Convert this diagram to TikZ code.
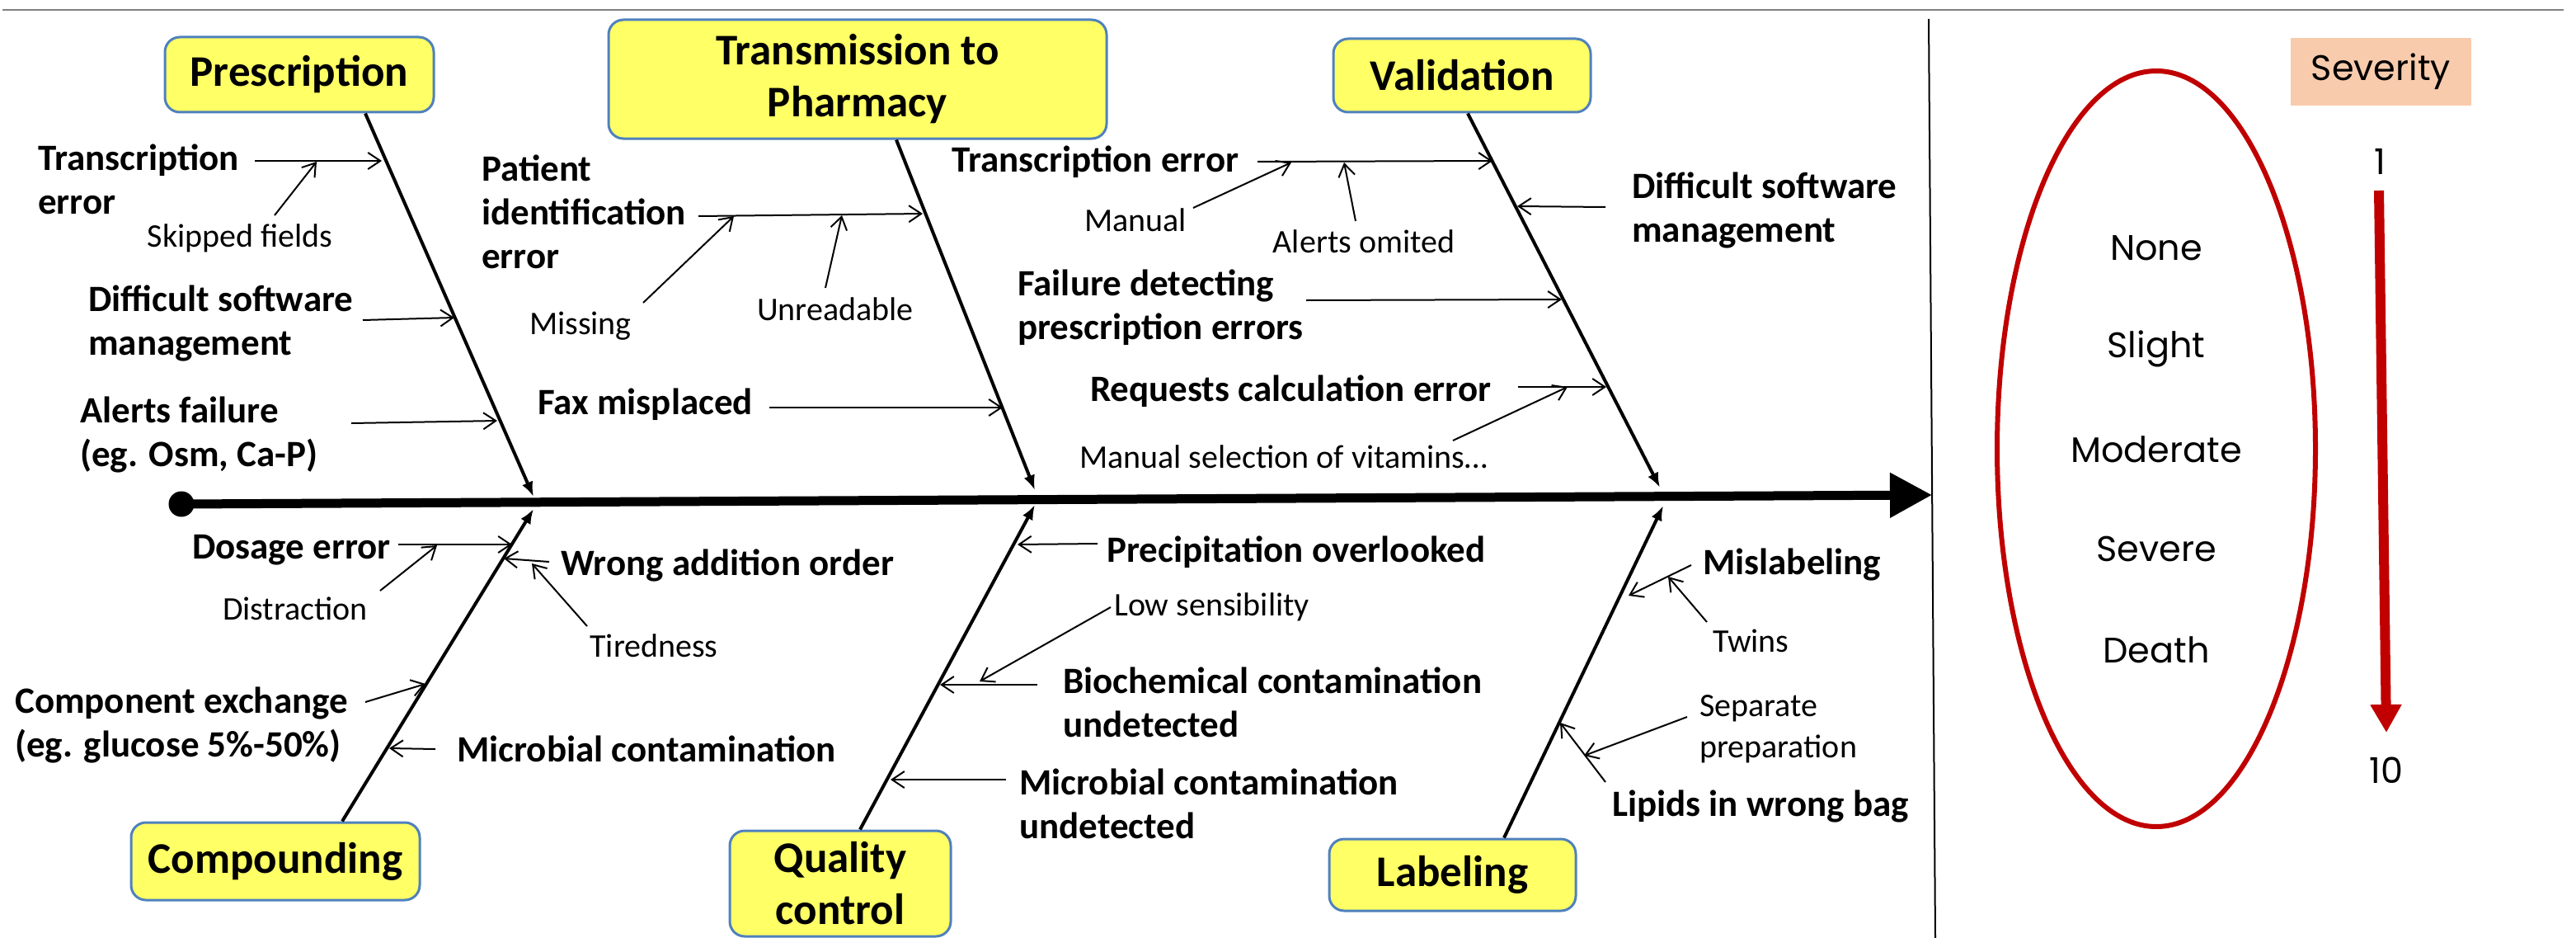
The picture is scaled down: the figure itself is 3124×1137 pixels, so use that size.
\documentclass[tikz,border=0pt]{standalone}
\usepackage{fontspec}
\setmainfont{Carlito}
\newfontfamily\sevfont{Poppins}
\usetikzlibrary{arrows.meta,shapes.geometric}
\definecolor{boxyellow}{HTML}{FFFF66}
\definecolor{boxblue}{HTML}{4F81BD}
\definecolor{sevred}{HTML}{C00000}
\definecolor{peach}{HTML}{F8CBAD}
\begin{document}
\begin{tikzpicture}[x=1pt,y=-1pt,
  box/.style={draw=boxblue, line width=3pt, fill=boxyellow, rounded corners=18pt, font=\fontsize{53}{63}\selectfont\bfseries, align=center, inner sep=0pt},
  cause/.style={font=\fontsize{45}{53}\selectfont\bfseries, align=left, anchor=west, inner sep=0pt},
  sub/.style={font=\fontsize{40}{50}\selectfont, align=left, inner sep=0pt},
  bone/.style={line width=4pt, -{Latex[length=18pt,width=14pt]}},
  sarrow/.style={line width=2pt, -{Straight Barb[length=15pt,width=20pt]}},
  sevtext/.style={font=\sevfont\fontsize{43}{50}\selectfont, inner sep=0pt}
]
\useasboundingbox (0,0) rectangle (3124,1137);
% frame lines
\coordinate (tl) at (3,12);
\coordinate (tr) at (3109,12);
\draw[gray, line width=2.5pt] (tl) -- (tr);
\coordinate (vs) at (2339,23);
\coordinate (ve) at (2347,1137);
\draw[line width=2pt] (vs) -- (ve);

% spine
\node[circle, fill, minimum size=31pt, inner sep=0pt] (dot) at (220,611) {};
\coordinate (head) at (2343,600);
\draw[line width=11pt, -{Triangle[length=51pt,width=52pt]}] (dot.center) -- (head);

% category boxes
\node[box, minimum width=326pt, minimum height=91pt] (presc) at (363,90.5) {Prescription};
\node[box, minimum width=604pt, minimum height=144pt] (trans) at (1040,96) {Transmission to\\Pharmacy};
\node[box, minimum width=312pt, minimum height=89pt] (valid) at (1773,91.5) {Validation};
\node[box, minimum width=350pt, minimum height=94pt] (comp) at (334,1044) {Compounding};
\node[box, minimum width=268pt, minimum height=128pt] (qual) at (1019,1071) {Quality\\control};
\node[box, minimum width=299pt, minimum height=87pt] (label) at (1761.5,1060.5) {Labeling};

% bones
\coordinate (j1) at (647,602);
\coordinate (j2) at (1255,594);
\coordinate (j3) at (2013,591);
\coordinate (j4) at (647,617);
\coordinate (j5) at (1255,612);
\coordinate (j6) at (2017,613);
\draw[bone] ([xshift=80pt]presc.south) -- (j1);
\draw[bone] ([xshift=47pt]trans.south) -- (j2);
\draw[bone] ([xshift=7pt]valid.south) -- (j3);
\draw[bone] ([xshift=81pt]comp.north) -- (j4);
\draw[bone] ([xshift=24pt]qual.north) -- (j5);
\draw[bone] ([xshift=62.5pt]label.north) -- (j6);

% ---- Prescription causes
\node[cause] (c1) at (46,217) {Transcription\\error};
\node[sub, anchor=center] (s1) at (291,289) {Skipped fields};
\coordinate (a1s) at (309,195); \coordinate (a1e) at (463,195);
\draw[sarrow] (a1s) -- (a1e);
\coordinate (a2s) at (333,261); \coordinate (a2e) at (384,196);
\draw[sarrow] (a2s) -- (a2e);
\node[cause] (c2) at (107,392) {Difficult software\\management};
\coordinate (a3s) at (440,388); \coordinate (a3e) at (551,385);
\draw[sarrow] (a3s) -- (a3e);
\node[cause] (c3) at (97,527) {Alerts failure\\(eg. Osm, Ca-P)};
\coordinate (a4s) at (426,513); \coordinate (a4e) at (603,510);
\draw[sarrow] (a4s) -- (a4e);

% ---- Transmission causes
\node[cause] (c4) at (584,257) {Patient\\identification\\error};
\coordinate (a5s) at (847,262); \coordinate (a5e) at (1119,259);
\draw[sarrow] (a5s) -- (a5e);
\node[sub, anchor=center] (s2) at (704,395) {Missing};
\coordinate (a6s) at (780,367); \coordinate (a6e) at (890,262);
\draw[sarrow] (a6s) -- (a6e);
\node[sub, anchor=west] (s3) at (918,375) {Unreadable};
\coordinate (a7s) at (1001,349); \coordinate (a7e) at (1021,261);
\draw[sarrow] (a7s) -- (a7e);
\node[cause] (c5) at (652,490) {Fax misplaced};
\coordinate (a8s) at (933,494); \coordinate (a8e) at (1216,494);
\draw[sarrow] (a8s) -- (a8e);

% ---- Validation causes
\node[cause] (c6) at (1154,196) {Transcription error};
\coordinate (a9s) at (1525,196); \coordinate (a9e) at (1810,195);
\draw[sarrow] (a9s) -- (a9e);
\node[sub, anchor=center] (s4) at (1377,267) {Manual};
\coordinate (a10s) at (1447,252); \coordinate (a10e) at (1566,197);
\draw[sarrow] (a10s) -- (a10e);
\node[sub, anchor=center] (s5) at (1654,293) {Alerts omited};
\coordinate (a11s) at (1644,268); \coordinate (a11e) at (1630,197);
\draw[sarrow] (a11s) -- (a11e);
\node[cause] (c7) at (1979,255) {Difficult software\\management};
\coordinate (a12s) at (1947,251); \coordinate (a12e) at (1840,250);
\draw[sarrow] (a12s) -- (a12e);
\node[cause] (c8) at (1234,373) {Failure detecting\\prescription errors};
\coordinate (a13s) at (1584,364); \coordinate (a13e) at (1894,363);
\draw[sarrow] (a13s) -- (a13e);
\node[cause] (c9) at (1322,474) {Requests calculation error};
\coordinate (a14s) at (1841,469); \coordinate (a14e) at (1948,469);
\draw[sarrow] (a14s) -- (a14e);
\node[sub, anchor=west] (s6) at (1309,554) {Manual selection of vitamins…};
\coordinate (a15s) at (1762,534); \coordinate (a15e) at (1901,469);
\draw[sarrow] (a15s) -- (a15e);

% ---- Compounding causes
\node[cause] (c10) at (233,667) {Dosage error};
\coordinate (a16s) at (483,660); \coordinate (a16e) at (621,660);
\draw[sarrow] (a16s) -- (a16e);
\node[sub, anchor=center] (s7) at (358,738) {Distraction};
\coordinate (a17s) at (461,716); \coordinate (a17e) at (530,661);
\draw[sarrow] (a17s) -- (a17e);
\node[cause] (c11) at (680,685) {Wrong addition order};
\coordinate (a18s) at (666,681); \coordinate (a18e) at (611,677);
\draw[sarrow] (a18s) -- (a18e);
\node[sub, anchor=center] (s8) at (793,783) {Tiredness};
\coordinate (a19s) at (712,759); \coordinate (a19e) at (645,683);
\draw[sarrow] (a19s) -- (a19e);
\node[cause] (c12) at (18,879) {Component exchange\\(eg. glucose 5\%-50\%)};
\coordinate (a20s) at (443,851); \coordinate (a20e) at (516,829);
\draw[sarrow] (a20s) -- (a20e);
\node[cause] (c13) at (554,908) {Microbial contamination};
\coordinate (a21s) at (528,908); \coordinate (a21e) at (472,907);
\draw[sarrow] (a21s) -- (a21e);

% ---- Quality control causes
\node[cause] (c14) at (1342,669) {Precipitation overlooked};
\coordinate (a22s) at (1331,659); \coordinate (a22e) at (1234,660);
\draw[sarrow] (a22s) -- (a22e);
\node[sub, anchor=west] (s9) at (1351,736) {Low sensibility};
\coordinate (a23s) at (1347,736); \coordinate (a23e) at (1188,826);
\draw[sarrow] (a23s) -- (a23e);
\node[cause] (c15) at (1289,851) {Biochemical contamination\\undetected};
\coordinate (a24s) at (1258,830); \coordinate (a24e) at (1140,830);
\draw[sarrow] (a24s) -- (a24e);
\node[cause] (c16) at (1236,974) {Microbial contamination\\undetected};
\coordinate (a25s) at (1220,945); \coordinate (a25e) at (1080,945);
\draw[sarrow] (a25s) -- (a25e);

% ---- Labeling causes
\node[cause] (c17) at (2065,685) {Mislabeling};
\coordinate (a26s) at (2051,685); \coordinate (a26e) at (1975,722);
\draw[sarrow] (a26s) -- (a26e);
\node[sub, anchor=west] (s10) at (2077,777) {Twins};
\coordinate (a27s) at (2070,754); \coordinate (a27e) at (2023,699);
\draw[sarrow] (a27s) -- (a27e);
\node[sub, anchor=west] (s11) at (2061,884) {Separate\\preparation};
\coordinate (a28s) at (2046,869); \coordinate (a28e) at (1921,916);
\draw[sarrow] (a28s) -- (a28e);
\node[cause] (c18) at (1955,978) {Lipids in wrong bag};
\coordinate (a29s) at (1947,948); \coordinate (a29e) at (1892,876);
\draw[sarrow] (a29s) -- (a29e);

% ---- Severity panel
\node[fill=peach, minimum width=219pt, minimum height=82pt, inner sep=0pt, sevtext] (sev) at (2887.5,87) {Severity};
\node[ellipse, draw=sevred, line width=6pt, minimum width=386pt, minimum height=916pt, inner sep=0pt] (ell) at (2615,544) {};
\node[sevtext] (n1) at (2615,301) {None};
\node[sevtext] (n2) at (2615,423) {Slight};
\node[sevtext] (n3) at (2615,545) {Moderate};
\node[sevtext] (n4) at (2615,666) {Severe};
\node[sevtext] (n5) at (2615,788) {Death};
\node[sevtext] (one) at (2886,196) {1};
\node[sevtext] (ten) at (2894,934) {10};
\coordinate (rs) at (2885,231);
\coordinate (re) at (2894,888);
\draw[sevred, line width=12pt, -{Triangle[length=34pt,width=36pt]}] (rs) -- (re);
\end{tikzpicture}
\end{document}
